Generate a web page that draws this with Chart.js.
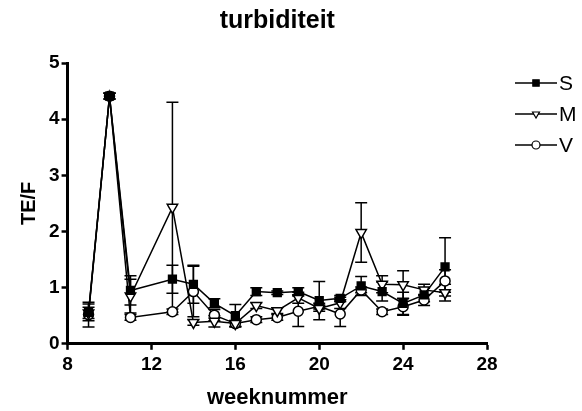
<!DOCTYPE html>
<html>
<head>
<meta charset="utf-8">
<script src="https://cdn.jsdelivr.net/npm/chart.js@4.4.1/dist/chart.umd.min.js"></script>
<style>
  body { margin: 0; background: #fff; }
  #myChart { display: block; }
</style>
</head>
<body>
<canvas id="myChart" width="582" height="411"></canvas>
<script>
const weken = [9, 10, 11, 13, 14, 15, 16, 17, 18, 19, 20, 21, 22, 23, 24, 25, 26];

const waardenS = [0.56, 4.41, 0.95, 1.15, 1.06, 0.72, 0.50, 0.93, 0.91, 0.93, 0.77, 0.81, 1.03, 0.93, 0.72, 0.87, 1.37];
const foutS    = [0.15, 0.05, 0.26, 0.25, 0.34, 0.08, 0.20, 0.07, 0.03, 0.07, 0.34, 0.05, 0.17, 0.17, 0.20, 0.12, 0.52];

const waardenM = [0.55, 4.41, 0.85, 2.43, 0.38, 0.40, 0.36, 0.68, 0.59, 0.82, 0.63, 0.73, 1.98, 1.06, 1.05, 0.96, 0.91];
const foutM    = [0.10, 0.05, 0.30, 1.87, 0.05, 0.10, 0.05, 0.05, 0.05, 0.10, 0.05, 0.10, 0.53, 0.15, 0.25, 0.10, 0.15];

const waardenV = [0.52, 4.41, 0.47, 0.57, 0.93, 0.51, 0.36, 0.43, 0.47, 0.58, 0.67, 0.53, 0.96, 0.57, 0.66, 0.78, 1.12];
const foutV    = [0.22, 0.05, 0.05, 0.05, 0.45, 0.10, 0.05, 0.05, 0.05, 0.27, 0.05, 0.22, 0.05, 0.05, 0.15, 0.10, 0.20];

const xTicks = [8, 12, 16, 20, 24, 28];
const yTicks = [0, 1, 2, 3, 4, 5];

function maakPunten(waarden) {
  return weken.map(function (w, i) {
    return { x: w, y: waarden[i] };
  });
}

const fontNaam = "'Liberation Sans', Arial, sans-serif";

// error bars (drawn under the markers)
const foutBalken = {
  id: "foutBalken",
  beforeDatasetsDraw(chart) {
    const ctx = chart.ctx;
    const xs = chart.scales.x;
    const ys = chart.scales.y;
    ctx.save();
    ctx.strokeStyle = "#000";
    ctx.lineWidth = 1.5;
    chart.data.datasets.forEach(function (ds) {
      ds.data.forEach(function (p, i) {
        const e = ds.fouten[i];
        const px = xs.getPixelForValue(p.x);
        const top = ys.getPixelForValue(p.y + e);
        const bot = ys.getPixelForValue(Math.max(0, p.y - e));
        ctx.beginPath();
        ctx.moveTo(px, top);
        ctx.lineTo(px, bot);
        ctx.moveTo(px - 6, top);
        ctx.lineTo(px + 6, top);
        ctx.moveTo(px - 6, bot);
        ctx.lineTo(px + 6, bot);
        ctx.stroke();
      });
    });
    ctx.restore();
  },
};

// legend on the right: line + marker + label
const legende = {
  id: "legende",
  afterDraw(chart) {
    const ctx = chart.ctx;
    const x0 = 515, x1 = 557;
    const rijen = [83, 114, 145];
    ctx.save();
    chart.data.datasets.forEach(function (ds, i) {
      const y = rijen[i];
      const mx = (x0 + x1) / 2;
      ctx.strokeStyle = "#000";
      ctx.lineWidth = 1.5;
      ctx.beginPath();
      ctx.moveTo(x0, y);
      ctx.lineTo(x1, y);
      ctx.stroke();
      ctx.fillStyle = ds.pointBackgroundColor;
      ctx.strokeStyle = "#000";
      ctx.lineWidth = 1.2;
      Chart.helpers.drawPoint(ctx, {
        pointStyle: ds.pointStyle,
        radius: ds.pointStyle === "rect" ? 4.5 : 4,
        rotation: ds.pointRotation || 0,
        borderWidth: 1.2,
      }, mx, y);
      ctx.fillStyle = "#000";
      ctx.font = "21px " + fontNaam;
      ctx.textBaseline = "middle";
      ctx.textAlign = "left";
      ctx.fillText(ds.label, x1 + 2, y + 1);
    });
    ctx.restore();
  },
};

const config = {
  type: "line",
  data: {
    datasets: [
      {
        label: "S",
        data: maakPunten(waardenS),
        fouten: foutS,
        borderColor: "#000",
        borderWidth: 1.5,
        pointStyle: "rect",
        pointRadius: 5.5,
        pointBackgroundColor: "#000",
        pointBorderColor: "#000",
        tension: 0,
      },
      {
        label: "M",
        data: maakPunten(waardenM),
        fouten: foutM,
        borderColor: "#000",
        borderWidth: 1.5,
        pointStyle: "triangle",
        pointRotation: 180,
        pointRadius: 6,
        pointBackgroundColor: "#fff",
        pointBorderColor: "#000",
        pointBorderWidth: 1.5,
        tension: 0,
      },
      {
        label: "V",
        data: maakPunten(waardenV),
        fouten: foutV,
        borderColor: "#000",
        borderWidth: 1.5,
        pointStyle: "circle",
        pointRadius: 5,
        pointBackgroundColor: "#fff",
        pointBorderColor: "#000",
        pointBorderWidth: 1.5,
        tension: 0,
      },
    ],
  },
  options: {
    responsive: false,
    animation: false,
    layout: { padding: { left: 17, right: 95, top: 0, bottom: 0 } },
    plugins: {
      legend: { display: false },
      tooltip: { enabled: false },
      title: {
        display: true,
        fullSize: false,
        text: "turbiditeit",
        color: "#000",
        font: { family: fontNaam, size: 25, weight: "bold" },
        padding: { top: 6, bottom: 27 },
      },
    },
    scales: {
      x: {
        type: "linear",
        min: 8,
        max: 28,
        afterBuildTicks(scale) {
          scale.ticks = xTicks.map(function (v) { return { value: v }; });
        },
        border: { display: true, color: "#000", width: 3 },
        grid: { drawOnChartArea: false, drawTicks: true, tickLength: 6, tickWidth: 2.5, color: "#000" },
        ticks: {
          color: "#000",
          padding: 4,
          maxRotation: 0,
          font: { family: fontNaam, size: 19, weight: "bold" },
        },
        title: {
          display: true,
          text: "weeknummer",
          color: "#000",
          font: { family: fontNaam, size: 22, weight: "bold" },
          padding: { top: 4, bottom: 0 },
        },
      },
      y: {
        min: 0,
        max: 5,
        afterBuildTicks(scale) {
          scale.ticks = yTicks.map(function (v) { return { value: v }; });
        },
        border: { display: true, color: "#000", width: 3 },
        grid: { drawOnChartArea: false, drawTicks: true, tickLength: 6, tickWidth: 2.5, color: "#000" },
        ticks: {
          color: "#000",
          padding: 2,
          font: { family: fontNaam, size: 19, weight: "bold" },
        },
        title: {
          display: true,
          text: "TE/F",
          color: "#000",
          font: { family: fontNaam, size: 20, weight: "bold" },
          padding: { top: 0, bottom: 6 },
        },
      },
    },
  },
  plugins: [foutBalken, legende],
};

new Chart(document.getElementById("myChart"), config);
</script>
</body>
</html>
